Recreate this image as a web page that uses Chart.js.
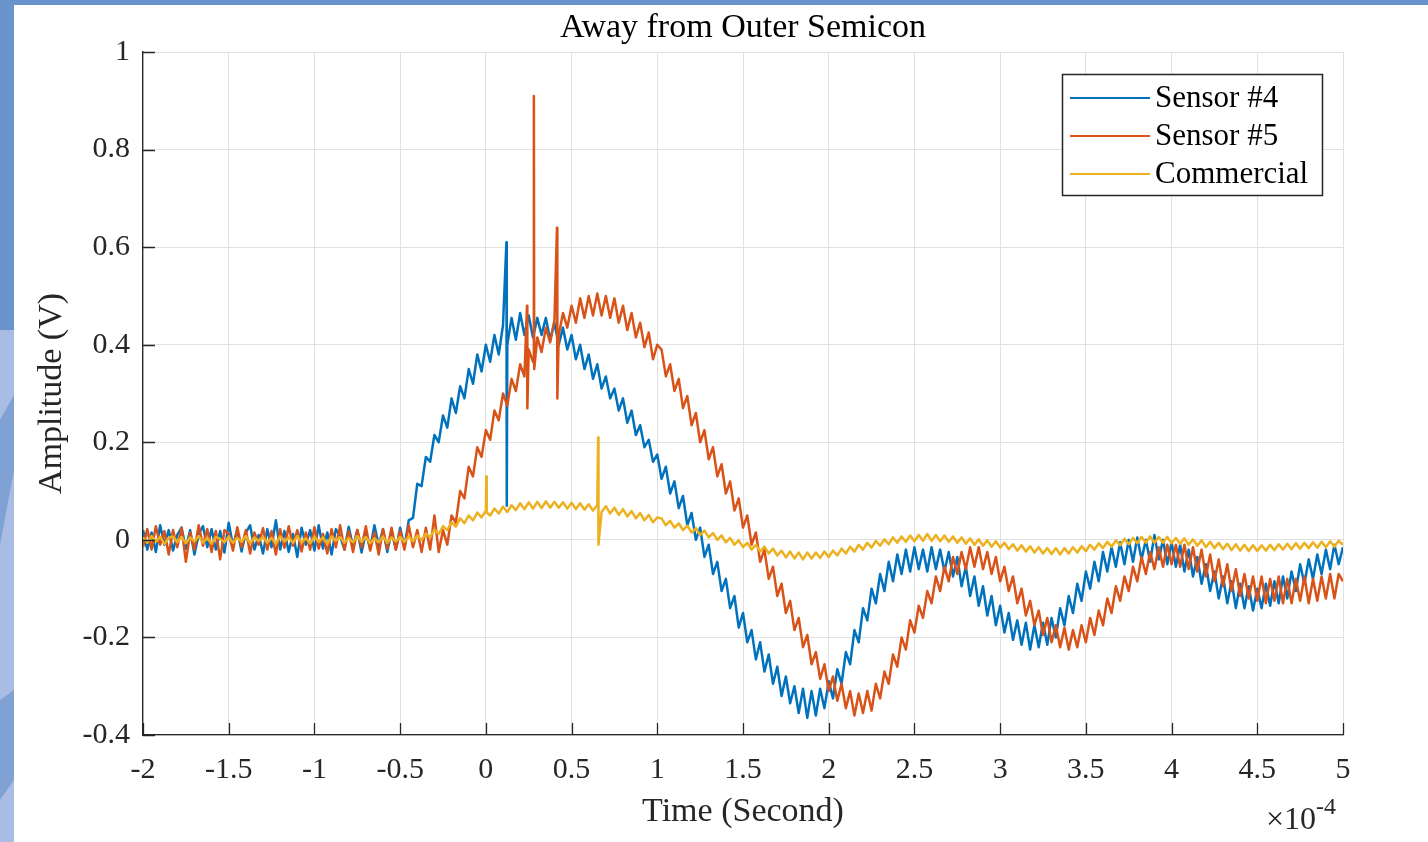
<!DOCTYPE html>
<html>
<head>
<meta charset="utf-8">
<title>Away from Outer Semicon</title>
<script src="https://cdn.jsdelivr.net/npm/chart.js@4.4.0/dist/chart.umd.min.js"></script>
<style>
  html, body { margin: 0; padding: 0; background: #6a93cb; }
  #chart { display: block; }
</style>
</head>
<body>
<canvas id="chart" width="1428" height="842"></canvas>
<script>
// Time axis is in units of 1e-4 s, samples every 0.025 from -2 to 5
const timeStart = -2;
const timeStep = 0.025;

const xTicks = [-2, -1.5, -1, -0.5, 0, 0.5, 1, 1.5, 2, 2.5, 3, 3.5, 4, 4.5, 5];
const yTicks = [-0.4, -0.2, 0, 0.2, 0.4, 0.6, 0.8, 1];

const seriesNames = ["Sensor #4", "Sensor #5", "Commercial"];
const seriesColors = ["#0072BD", "#D95319", "#EDB120"];

// Sensor #4 amplitude (V)
const sensor4 = [
  0.02,-0.02,0.015,-0.025,0.03,-0.01,0.02,-0.022,0.01,0.025,
  -0.018,0.02,-0.03,0.012,0.028,-0.015,0.022,-0.02,0.018,-0.026,
  0.035,-0.012,0.02,-0.024,0.015,0.03,-0.02,0.01,-0.028,0.022,
  -0.015,0.04,-0.02,0.018,-0.025,0.012,-0.035,0.025,-0.01,0.02,
  -0.022,0.03,-0.018,0.015,-0.03,0.022,0.008,-0.02,0.027,-0.014,
  0.02,-0.026,0.015,-0.018,0.03,-0.012,0.022,-0.025,0.018,-0.02,
  0.025,
  -0.015,0.04,0.045,0.115,0.11,0.17,0.16,0.215,0.2,0.255,
  0.23,0.29,0.26,0.315,0.29,0.35,0.32,0.38,0.345,0.4,
  0.365,0.42,0.38,0.44,0.40,0.455,0.41,0.465,0.42,0.46,
  0.415,0.455,0.42,0.455,0.41,0.445,0.40,0.435,0.39,0.42,
  0.37,0.40,0.35,0.38,0.33,0.36,0.31,0.335,0.29,0.31,
  0.265,0.29,0.24,0.265,0.215,0.235,0.19,0.205,0.16,0.175,
  0.125,0.15,0.095,0.12,0.065,0.09,0.03,0.055,0.0,0.025,
  -0.035,-0.01,-0.07,-0.045,-0.105,-0.08,-0.14,-0.115,-0.18,-0.15,
  -0.21,-0.185,-0.245,-0.21,-0.27,-0.235,-0.295,-0.26,-0.32,-0.28,
  -0.335,-0.30,-0.355,-0.305,-0.365,-0.31,-0.36,-0.305,-0.345,-0.29,
  -0.325,-0.265,-0.295,-0.23,-0.255,-0.185,-0.21,-0.14,-0.165,-0.10,
  -0.13,-0.07,-0.105,-0.045,-0.085,-0.03,-0.07,-0.02,-0.065,-0.015,
  -0.06,-0.02,-0.065,-0.015,-0.06,-0.02,-0.065,-0.025,-0.075,-0.035,
  -0.095,-0.055,-0.115,-0.075,-0.135,-0.095,-0.155,-0.115,-0.175,-0.135,
  -0.19,-0.15,-0.205,-0.165,-0.215,-0.17,-0.225,-0.175,-0.22,-0.17,
  -0.215,-0.16,-0.2,-0.14,-0.175,-0.115,-0.15,-0.09,-0.125,-0.065,
  -0.1,-0.045,-0.085,-0.025,-0.065,-0.015,-0.055,-0.005,-0.05,0.0,
  -0.045,0.005,-0.04,0.0,-0.045,0.01,-0.04,0.0,-0.05,-0.005,
  -0.055,-0.01,-0.065,-0.02,-0.075,-0.035,-0.09,-0.05,-0.105,-0.065,
  -0.12,-0.075,-0.13,-0.085,-0.14,-0.09,-0.14,-0.095,-0.145,-0.1,
  -0.14,-0.09,-0.135,-0.085,-0.13,-0.075,-0.12,-0.065,-0.105,-0.05,
  -0.09,-0.04,-0.08,-0.03,-0.07,-0.02,-0.06,-0.01,-0.05,-0.015
];
const sensor4SpikeT = [0.12, 0.122];
const sensor4SpikeV = [0.61, 0.07];

// Sensor #5 amplitude (V)
const sensor5 = [
  -0.015,0.022,-0.02,0.028,-0.01,0.018,-0.03,0.02,-0.015,0.025,
  -0.045,0.015,-0.02,0.03,-0.012,0.022,-0.025,0.018,-0.04,0.02,
  0.012,-0.022,0.026,-0.015,0.02,-0.028,0.015,-0.01,0.024,-0.02,
  0.018,-0.03,0.022,-0.016,0.028,-0.012,0.02,-0.024,0.015,-0.02,
  0.026,-0.018,0.012,-0.028,0.022,-0.015,0.03,-0.02,0.018,-0.025,
  0.02,-0.015,0.028,-0.022,0.015,-0.03,0.022,-0.018,0.025,-0.02,
  0.018,
  -0.02,0.03,-0.015,0.02,-0.025,0.025,-0.02,0.05,-0.025,0.02,
  -0.01,0.05,0.035,0.10,0.085,0.15,0.13,0.19,0.17,0.225,
  0.205,0.265,0.245,0.30,0.275,0.33,0.305,0.36,0.335,0.39,
  0.365,0.415,0.385,0.435,0.405,0.45,0.42,0.465,0.435,0.48,
  0.445,0.495,0.455,0.50,0.46,0.505,0.46,0.50,0.455,0.495,
  0.445,0.48,0.43,0.465,0.415,0.445,0.395,0.425,0.37,0.40,
  0.39,0.335,0.36,0.305,0.33,0.27,0.295,0.235,0.26,0.20,
  0.225,0.165,0.19,0.13,0.155,0.095,0.12,0.06,0.085,0.025,
  0.05,-0.01,0.015,-0.045,-0.02,-0.08,-0.055,-0.115,-0.09,-0.15,
  -0.125,-0.185,-0.16,-0.22,-0.195,-0.255,-0.23,-0.285,-0.255,-0.31,
  -0.28,-0.33,-0.295,-0.345,-0.31,-0.36,-0.315,-0.355,-0.31,-0.35,
  -0.295,-0.325,-0.27,-0.295,-0.235,-0.26,-0.20,-0.225,-0.165,-0.19,
  -0.135,-0.16,-0.105,-0.13,-0.075,-0.105,-0.055,-0.085,-0.035,-0.07,
  -0.025,-0.06,-0.015,-0.055,-0.015,-0.06,-0.025,-0.07,-0.035,-0.085,
  -0.055,-0.105,-0.075,-0.13,-0.10,-0.155,-0.125,-0.175,-0.145,-0.195,
  -0.16,-0.21,-0.175,-0.22,-0.18,-0.225,-0.185,-0.22,-0.175,-0.21,
  -0.16,-0.195,-0.145,-0.175,-0.12,-0.15,-0.095,-0.125,-0.075,-0.105,
  -0.055,-0.085,-0.035,-0.07,-0.025,-0.06,-0.015,-0.055,-0.01,-0.05,
  -0.01,-0.055,-0.01,-0.06,-0.015,-0.065,-0.02,-0.075,-0.03,-0.085,
  -0.04,-0.095,-0.05,-0.105,-0.06,-0.115,-0.07,-0.12,-0.075,-0.125,
  -0.075,-0.13,-0.08,-0.125,-0.075,-0.13,-0.08,-0.13,-0.08,-0.125,
  -0.075,-0.13,-0.08,-0.125,-0.075,-0.12,-0.07,-0.12,-0.07,-0.085
];
const sensor5SpikeT = [0.24, 0.242, 0.28, 0.282, 0.415, 0.417];
const sensor5SpikeV = [0.48, 0.27, 0.91, 0.35, 0.64, 0.29];

// Commercial sensor amplitude (V)
const commercial = [
  0.005,-0.006,0.008,-0.004,0.006,-0.008,0.004,0.007,-0.005,0.006,
  -0.007,0.005,-0.003,0.008,-0.006,0.004,-0.008,0.006,0.002,-0.005,
  0.007,-0.006,0.004,-0.004,0.008,-0.007,0.005,-0.002,0.006,-0.006,
  0.004,-0.008,0.007,-0.003,0.005,-0.006,0.008,-0.005,0.003,-0.007,
  0.006,-0.004,0.005,-0.008,0.007,-0.002,0.006,-0.006,0.004,-0.005,
  0.008,-0.004,0.006,-0.007,0.003,-0.005,0.007,-0.006,0.005,-0.003,
  0.006,
  -0.004,0.007,-0.003,0.009,0.0,0.013,0.005,0.021,0.012,0.028,
  0.02,0.036,0.027,0.044,0.034,0.05,0.04,0.056,0.046,0.06,
  0.05,0.064,0.054,0.068,0.057,0.071,0.061,0.075,0.063,0.077,
  0.064,0.078,0.065,0.079,0.066,0.078,0.066,0.077,0.064,0.076,
  0.063,0.075,0.062,0.073,0.06,0.071,0.057,0.069,0.054,0.066,
  0.051,0.063,0.048,0.059,0.044,0.055,0.04,0.051,0.036,0.046,
  0.044,0.03,0.039,0.025,0.034,0.02,0.029,0.015,0.024,0.01,
  0.019,0.005,0.014,0.0,0.009,-0.005,0.004,-0.01,-0.001,-0.015,
  -0.006,-0.02,-0.01,-0.024,-0.014,-0.028,-0.018,-0.032,-0.022,-0.036,
  -0.024,-0.038,-0.026,-0.04,-0.026,-0.038,-0.026,-0.037,-0.024,-0.035,
  -0.022,-0.032,-0.018,-0.028,-0.014,-0.024,-0.01,-0.02,-0.006,-0.016,
  -0.002,-0.012,0.001,-0.009,0.005,-0.006,0.007,-0.004,0.009,-0.003,
  0.01,-0.002,0.012,-0.002,0.01,-0.003,0.009,-0.004,0.007,-0.006,
  0.005,-0.008,0.003,-0.01,0.001,-0.012,-0.001,-0.014,-0.003,-0.016,
  -0.006,-0.019,-0.009,-0.022,-0.011,-0.024,-0.013,-0.026,-0.015,-0.028,
  -0.017,-0.029,-0.017,-0.03,-0.017,-0.028,-0.015,-0.026,-0.013,-0.023,
  -0.01,-0.02,-0.007,-0.017,-0.004,-0.014,-0.001,-0.011,0.002,-0.009,
  0.004,-0.007,0.006,-0.006,0.007,-0.006,0.006,-0.006,0.006,-0.007,
  0.004,-0.008,0.003,-0.01,0.001,-0.012,-0.001,-0.015,-0.004,-0.017,
  -0.006,-0.019,-0.008,-0.021,-0.009,-0.022,-0.01,-0.023,-0.011,-0.023,
  -0.011,-0.022,-0.01,-0.021,-0.009,-0.02,-0.008,-0.019,-0.007,-0.018,
  -0.006,-0.017,-0.005,-0.016,-0.004,-0.015,-0.003,-0.014,-0.002,-0.01
];
const commercialSpikeT = [0.003, 0.005, 0.655, 0.657];
const commercialSpikeV = [0.13, 0.056, 0.21, -0.01];

// Layout (page pixels)
const plotLeft = 143;
const plotRight = 1343;
const plotTop = 52;
const plotBottom = 735;
const serif = "'Liberation Serif', 'Times New Roman', serif";
const ink = "#262626";

function buildPoints(values, spikeT, spikeV) {
  const pts = values.map((v, i) => ({ x: timeStart + i * timeStep, y: v }));
  spikeT.forEach((t, i) => pts.push({ x: t, y: spikeV[i] }));
  pts.sort((a, b) => a.x - b.x);
  return pts;
}

function fmt(v) {
  return String(Number(v.toFixed(2)));
}

// Background, titles, inward ticks and legend
const decorPlugin = {
  id: "decor",
  beforeDraw(chart) {
    const ctx = chart.ctx;
    ctx.save();
    ctx.fillStyle = "#6a93cb";
    ctx.fillRect(0, 0, chart.width, chart.height);
    // lighter patterned strip on the lower left
    ctx.fillStyle = "#a9bde4";
    ctx.fillRect(0, 330, 14, chart.height - 330);
    ctx.fillStyle = "#7fa1d4";
    ctx.beginPath();
    ctx.moveTo(0, 420); ctx.lineTo(14, 395); ctx.lineTo(14, 470); ctx.lineTo(0, 545);
    ctx.closePath(); ctx.fill();
    ctx.beginPath();
    ctx.moveTo(0, 700); ctx.lineTo(14, 690); ctx.lineTo(14, 780); ctx.lineTo(0, 800);
    ctx.closePath(); ctx.fill();
    ctx.fillStyle = "#ffffff";
    ctx.fillRect(14, 5, chart.width - 14, chart.height - 5);
    ctx.restore();
  },
  afterDraw(chart) {
    const ctx = chart.ctx;
    const xs = chart.scales.x;
    const ys = chart.scales.y;
    const area = chart.chartArea;
    ctx.save();

    // inward tick marks
    ctx.strokeStyle = ink;
    ctx.lineWidth = 1.3;
    ctx.beginPath();
    xTicks.forEach(t => {
      const px = Math.round(xs.getPixelForValue(t)) + 0.5;
      ctx.moveTo(px, area.bottom);
      ctx.lineTo(px, area.bottom - 12);
    });
    yTicks.forEach(t => {
      const py = Math.round(ys.getPixelForValue(t)) + 0.5;
      ctx.moveTo(area.left, py);
      ctx.lineTo(area.left + 12, py);
    });
    ctx.stroke();

    // title and axis titles
    ctx.fillStyle = "#000";
    ctx.textAlign = "center";
    ctx.textBaseline = "alphabetic";
    ctx.font = "34px " + serif;
    ctx.fillText("Away from Outer Semicon", (area.left + area.right) / 2, 37);
    ctx.fillStyle = ink;
    ctx.fillText("Time (Second)", (area.left + area.right) / 2, 821);
    ctx.save();
    ctx.translate(61, (area.top + area.bottom) / 2);
    ctx.rotate(-Math.PI / 2);
    ctx.fillText("Amplitude (V)", 0, 0);
    ctx.restore();

    // x10^-4 exponent label
    ctx.textAlign = "left";
    ctx.font = "32px " + serif;
    ctx.fillText("\u00d710", 1266, 829);
    const w = ctx.measureText("\u00d710").width;
    ctx.font = "24px " + serif;
    ctx.fillText("-4", 1266 + w, 814);

    // legend box
    const lx = 1062, ly = 74, lw = 260, lh = 121;
    ctx.fillStyle = "#fff";
    ctx.fillRect(lx, ly, lw, lh);
    ctx.strokeStyle = ink;
    ctx.lineWidth = 1.5;
    ctx.strokeRect(lx + 0.5, ly + 0.5, lw, lh);
    ctx.font = "31px " + serif;
    ctx.textBaseline = "middle";
    seriesNames.forEach((name, i) => {
      const ry = 98 + i * 38;
      ctx.strokeStyle = seriesColors[i];
      ctx.lineWidth = 1.8;
      ctx.beginPath();
      ctx.moveTo(1070, ry);
      ctx.lineTo(1150, ry);
      ctx.stroke();
      ctx.fillStyle = "#000";
      ctx.fillText(name, 1155, ry + 1);
    });
    ctx.restore();
  }
};

const ctx = document.getElementById("chart").getContext("2d");
const chart = new Chart(ctx, {
  type: "line",
  data: {
    datasets: [
      { label: seriesNames[0], data: buildPoints(sensor4, sensor4SpikeT, sensor4SpikeV), borderColor: seriesColors[0], order: 3 },
      { label: seriesNames[1], data: buildPoints(sensor5, sensor5SpikeT, sensor5SpikeV), borderColor: seriesColors[1], order: 2 },
      { label: seriesNames[2], data: buildPoints(commercial, commercialSpikeT, commercialSpikeV), borderColor: seriesColors[2], order: 1 }
    ]
  },
  options: {
    responsive: false,
    animation: false,
    devicePixelRatio: 1,
    layout: { padding: { top: plotTop, right: 1428 - plotRight, left: 0, bottom: 0 } },
    elements: {
      point: { radius: 0 },
      line: { borderWidth: 2.5, tension: 0, borderJoinStyle: "round" }
    },
    plugins: {
      legend: { display: false },
      title: { display: false },
      tooltip: { enabled: false }
    },
    scales: {
      x: {
        type: "linear",
        min: -2,
        max: 5,
        afterFit: scale => { scale.height = 842 - plotBottom; },
        afterBuildTicks: scale => { scale.ticks = xTicks.map(v => ({ value: v })); },
        grid: { color: "#e1e1e1", drawTicks: false },
        border: { display: true, color: ink, width: 1.3 },
        ticks: {
          padding: 17,
          color: ink,
          font: { family: serif, size: 30 },
          maxRotation: 0,
          callback: v => fmt(v)
        }
      },
      y: {
        type: "linear",
        min: -0.4,
        max: 1,
        afterFit: scale => { scale.width = plotLeft; },
        afterBuildTicks: scale => { scale.ticks = yTicks.map(v => ({ value: v })); },
        grid: { color: "#e1e1e1", drawTicks: false },
        border: { display: true, color: ink, width: 1.3 },
        ticks: {
          padding: 13,
          color: ink,
          font: { family: serif, size: 30 },
          callback: v => fmt(v)
        }
      }
    }
  },
  plugins: [decorPlugin]
});
</script>
</body>
</html>
